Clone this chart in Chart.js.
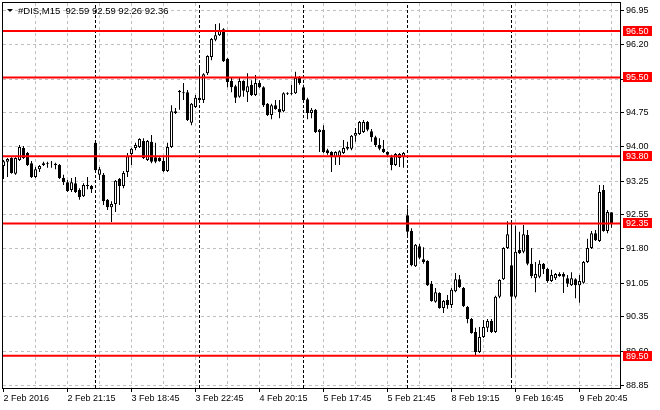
<!DOCTYPE html>
<html>
<head>
<meta charset="utf-8">
<title>#DIS,M15</title>
<script src="https://cdn.jsdelivr.net/npm/chart.js@4.4.1/dist/chart.umd.min.js"></script>
<style>
  html, body { margin: 0; padding: 0; background: #fff; }
  canvas { display: block; }
</style>
</head>
<body>
<canvas id="chart" width="660" height="410" style="width:660px;height:410px"></canvas>
<script>
// M15 bars, 2 Feb 2016 17:15 .. 9 Feb 2016 22:45 (trading session 16:30-23:00)
const opens = [
  93.59, 93.68, 93.76, 93.42, 93.72, 93.98, 93.87, 93.65, 93.35, 93.52,
  93.61, 93.63, 93.65, 93.64, 93.61, 93.33, 93.24, 93.07, 93.22, 93.07,
  92.94, 93.16, 93.16, 94.09, 93.40, 93.40, 92.86, 92.70, 92.77, 93.31,
  93.16, 93.46, 93.85, 93.98, 94.00, 94.13, 93.72, 94.11, 93.78, 93.76,
  93.70, 93.48, 94.00, 94.73, 95.18, 95.18, 95.18, 94.52, 94.86, 95.06,
  95.01, 95.59, 95.94, 96.31, 96.41, 96.54, 95.90, 95.42, 95.31, 95.08,
  95.42, 95.18, 95.34, 95.12, 95.38, 95.29, 94.93, 94.69, 94.90, 94.82,
  94.77, 95.14, 95.14, 95.16, 95.49, 95.29, 95.03, 94.73, 94.80, 94.32,
  94.37, 93.93, 93.89, 93.78, 93.80, 93.87, 93.96, 93.96, 94.24, 94.28,
  94.32, 94.54, 94.34, 94.21, 94.04, 93.96, 93.89, 93.78, 93.61, 93.76,
  93.78, 92.53, 92.19, 91.43, 91.86, 91.58, 91.54, 91.05, 90.66, 90.85,
  90.53, 90.70, 90.59, 90.89, 91.15, 90.96, 90.55, 90.29, 90.01, 89.58,
  89.90, 90.10, 90.25, 90.01, 90.77, 91.15, 91.82, 91.45, 90.77, 91.78,
  91.74, 92.10, 91.48, 91.17, 91.20, 91.48, 91.37, 91.11, 91.17, 91.22,
  91.26, 91.17, 91.02, 91.15, 91.02, 91.07, 91.52, 91.82, 92.14, 91.97,
  93.07, 92.19, 92.59
];
const highs = [
  93.72, 93.76, 93.78, 93.78, 94.04, 94.02, 93.89, 93.70, 93.57, 93.61,
  93.68, 93.68, 93.70, 93.66, 93.63, 93.40, 93.29, 93.33, 93.35, 93.11,
  93.22, 93.35, 93.18, 94.11, 93.57, 93.44, 92.88, 92.83, 93.29, 93.33,
  93.48, 93.87, 93.98, 94.09, 94.19, 94.19, 94.15, 94.26, 94.09, 93.78,
  93.78, 94.09, 94.90, 94.84, 95.23, 95.38, 95.23, 94.95, 95.12, 95.72,
  95.59, 95.98, 96.35, 96.65, 96.67, 96.56, 95.92, 95.51, 95.34, 95.51,
  95.44, 95.59, 95.44, 95.55, 95.44, 95.31, 94.95, 94.93, 95.01, 95.01,
  95.18, 95.18, 95.34, 95.62, 95.53, 95.34, 95.06, 94.84, 94.82, 94.39,
  94.47, 93.96, 93.91, 93.91, 93.93, 94.15, 94.11, 94.26, 94.41, 94.56,
  94.58, 94.56, 94.39, 94.24, 94.19, 94.15, 93.91, 93.83, 93.87, 93.87,
  93.89, 92.68, 92.25, 91.91, 91.91, 91.84, 91.56, 91.11, 90.96, 90.87,
  90.70, 90.81, 90.96, 91.28, 91.24, 90.98, 90.57, 90.31, 90.10, 90.12,
  90.27, 90.29, 90.29, 90.79, 91.15, 91.84, 92.40, 92.42, 92.30, 92.17,
  92.32, 92.21, 91.82, 91.52, 91.56, 91.50, 91.39, 91.35, 91.28, 91.30,
  91.30, 91.24, 91.30, 91.17, 91.24, 91.54, 92.02, 92.19, 92.21, 93.18,
  93.18, 92.64, 92.59
];
const lows = [
  93.31, 93.35, 93.42, 93.40, 93.70, 93.74, 93.59, 93.33, 93.33, 93.46,
  93.59, 93.55, 93.55, 93.52, 93.31, 93.18, 93.03, 93.03, 93.01, 92.86,
  92.92, 93.09, 93.01, 93.46, 93.29, 92.75, 92.64, 92.38, 92.60, 92.75,
  93.11, 93.35, 93.61, 93.93, 93.98, 93.74, 93.70, 93.65, 93.65, 93.68,
  93.46, 93.46, 93.98, 94.71, 94.80, 95.01, 94.56, 94.47, 94.84, 94.95,
  94.95, 95.55, 95.87, 96.28, 96.39, 95.83, 95.29, 95.18, 94.95, 95.06,
  95.08, 94.97, 95.10, 95.10, 95.27, 94.86, 94.67, 94.60, 94.80, 94.62,
  94.75, 95.12, 95.12, 95.14, 95.34, 94.99, 94.60, 94.62, 94.30, 93.89,
  93.87, 93.83, 93.46, 93.61, 93.61, 93.85, 93.93, 93.93, 94.11, 94.26,
  94.30, 94.34, 94.11, 94.00, 93.93, 93.87, 93.78, 93.50, 93.59, 93.57,
  93.55, 92.10, 91.43, 91.41, 91.58, 91.48, 91.00, 90.66, 90.64, 90.51,
  90.42, 90.51, 90.53, 90.87, 90.96, 90.55, 90.20, 89.97, 89.51, 89.56,
  89.88, 90.01, 89.99, 89.99, 90.74, 91.13, 91.80, 89.04, 90.74, 91.69,
  91.71, 91.45, 91.17, 90.87, 91.17, 91.26, 91.07, 91.09, 91.13, 91.20,
  90.85, 90.98, 91.00, 90.74, 90.64, 91.05, 91.50, 91.80, 91.97, 91.95,
  92.17, 92.14, 92.26
];
const closes = [
  93.69, 93.74, 93.44, 93.76, 94.00, 93.76, 93.61, 93.35, 93.52, 93.59,
  93.65, 93.65, 93.66, 93.61, 93.33, 93.24, 93.05, 93.24, 93.03, 92.92,
  93.18, 93.18, 93.09, 93.50, 93.52, 92.83, 92.70, 92.77, 93.27, 93.16,
  93.44, 93.80, 93.96, 94.04, 94.17, 93.76, 94.13, 93.68, 93.68, 93.70,
  93.48, 94.00, 94.77, 94.77, 95.21, 95.16, 94.58, 94.93, 95.06, 95.01,
  95.57, 95.96, 96.33, 96.41, 96.50, 95.85, 95.40, 95.29, 95.06, 95.42,
  95.21, 95.31, 95.12, 95.38, 95.29, 94.90, 94.69, 94.90, 94.82, 94.75,
  95.16, 95.16, 95.16, 95.49, 95.38, 95.01, 94.73, 94.80, 94.32, 94.37,
  93.89, 93.87, 93.78, 93.89, 93.91, 93.98, 94.00, 94.24, 94.30, 94.54,
  94.54, 94.37, 94.21, 94.04, 93.96, 93.89, 93.83, 93.61, 93.85, 93.85,
  93.87, 92.17, 91.45, 91.89, 91.61, 91.52, 91.02, 90.68, 90.87, 90.53,
  90.68, 90.59, 90.92, 91.15, 90.98, 90.57, 90.29, 89.99, 89.58, 89.90,
  90.12, 90.25, 90.01, 90.77, 91.13, 91.82, 92.12, 90.77, 91.74, 91.71,
  92.12, 91.48, 91.22, 91.26, 91.48, 91.37, 91.11, 91.24, 91.26, 91.26,
  91.20, 91.05, 91.17, 91.02, 91.11, 91.52, 91.82, 92.14, 91.99, 93.03,
  92.19, 92.60, 92.36
];

// x labels every 16 bars, starting at bar 0
const xTickLabels = ['2 Feb 2016', '2 Feb 21:15', '3 Feb 18:45', '3 Feb 22:45', '4 Feb 20:15',
  '5 Feb 17:45', '5 Feb 21:45', '8 Feb 19:15', '9 Feb 16:45', '9 Feb 20:45'];
const yTicks = [96.95, 96.20, 95.45, 94.75, 94.00, 93.25, 92.55, 91.80, 91.05, 90.35, 89.60, 88.85];
// horizontal lines drawn on the chart
const levels = [96.50, 95.50, 93.80, 92.35, 89.50];
// first bar of each new day (period separators)
const daySeparators = [23, 49, 75, 101, 127];

const symbolTitle = '#DIS,M15  92.59 92.59 92.26 92.36';

const X_MIN = -0.125, X_MAX = 154.125;
const Y_MIN = 88.803, Y_MAX = 97.104;
const FONT = 'Liberation Sans, Arial, sans-serif';

const wickData = highs.map((h, i) => ({ x: i, y: [lows[i], h] }));
const bodyData = opens.map((o, i) => ({ x: i, y: [o, closes[i]] }));
const bodyFill = opens.map((o, i) => closes[i] >= o ? '#ffffff' : '#000000');

const datasets = [];

levels.forEach(lv => {
    datasets.push({
        type: 'line',
        data: [{ x: X_MIN, y: lv }, { x: X_MAX, y: lv }],
        borderColor: '#ff0000',
        borderWidth: 2,
        pointRadius: 0,
        fill: false,
        order: 0
    });
});

daySeparators.forEach(idx => {
    datasets.push({
        type: 'line',
        data: [{ x: idx, y: Y_MIN }, { x: idx, y: Y_MAX }],
        borderColor: '#000000',
        borderWidth: 1,
        borderDash: [3, 2],
        pointRadius: 0,
        fill: false,
        order: 1
    });
});

datasets.push({
    type: 'bar',
    data: bodyData,
    backgroundColor: bodyFill,
    borderColor: '#000000',
    borderWidth: 1,
    borderSkipped: false,
    inflateAmount: 0,
    grouped: false,
    categoryPercentage: 1,
    barPercentage: 0.75,
    order: 2
});

datasets.push({
    type: 'bar',
    data: wickData,
    backgroundColor: '#000000',
    borderWidth: 0,
    inflateAmount: 0,
    grouped: false,
    categoryPercentage: 1,
    barPercentage: 0.25,
    order: 3
});

// frame, symbol title and red price labels on the axis
const overlay = {
    id: 'overlay',
    afterDraw(chart) {
        const { ctx, chartArea: a } = chart;
        const y = chart.scales.y;
        ctx.save();
        ctx.strokeStyle = '#000';
        ctx.lineWidth = 1;
        ctx.strokeRect(a.left - 0.5, a.top - 0.5, a.right - a.left + 1, a.bottom - a.top + 1);

        // small triangle and title
        ctx.fillStyle = '#000';
        ctx.beginPath();
        ctx.moveTo(7, 9);
        ctx.lineTo(13, 9);
        ctx.lineTo(10, 12);
        ctx.closePath();
        ctx.fill();
        ctx.font = '9.5px ' + FONT;
        ctx.textBaseline = 'alphabetic';
        ctx.textAlign = 'left';
        ctx.fillText(symbolTitle, 18, 14);

        // price labels of the horizontal lines
        ctx.font = '9px ' + FONT;
        ctx.textBaseline = 'middle';
        levels.forEach(lv => {
            const py = Math.round(y.getPixelForValue(lv));
            ctx.fillStyle = '#ff0000';
            ctx.fillRect(a.right + 3, py - 5, 29, 10);
            ctx.fillStyle = '#ffffff';
            ctx.fillText(lv.toFixed(2), a.right + 6, py + 0.5);
        });
        ctx.restore();
    }
};

new Chart(document.getElementById('chart'), {
    type: 'bar',
    data: { datasets },
    plugins: [overlay],
    options: {
        responsive: false,
        animation: false,
        layout: { padding: { left: 3, top: 3, right: 0, bottom: 0 } },
        plugins: { legend: { display: false }, tooltip: { enabled: false } },
        scales: {
            x: {
                type: 'linear',
                min: X_MIN,
                max: X_MAX,
                offset: false,
                afterBuildTicks: s => {
                    s.ticks = Array.from({ length: 20 }, (_, k) => ({ value: k * 8 }));
                },
                afterFit: s => {
                    s.height = 22;
                    s.paddingLeft = 0;
                    s.paddingRight = 0;
                },
                grid: {
                    offset: false,
                    color: c => (c.tick && c.tick.value === 0) ? 'rgba(0,0,0,0)' : '#c0c0c0',
                    tickColor: c => (c.tick && c.tick.value % 16 === 0) ? '#000' : 'rgba(0,0,0,0)',
                    tickLength: 4,
                    lineWidth: 1
                },
                border: { display: false, dash: [3, 3] },
                ticks: {
                    autoSkip: false,
                    maxRotation: 0,
                    align: 'start',
                    padding: 1,
                    color: '#000',
                    font: { family: FONT, size: 9 },
                    callback: v => (v % 16 === 0 ? (xTickLabels[v / 16] || '') : '')
                }
            },
            y: {
                type: 'linear',
                position: 'right',
                min: Y_MIN,
                max: Y_MAX,
                afterBuildTicks: s => {
                    s.ticks = yTicks.map(v => ({ value: v }));
                },
                afterFit: s => {
                    s.width = 40;
                    s.paddingTop = 0;
                    s.paddingBottom = 0;
                },
                grid: {
                    color: '#c0c0c0',
                    tickColor: '#000',
                    tickLength: 4,
                    lineWidth: 1
                },
                border: { display: false, dash: [3, 3] },
                ticks: {
                    autoSkip: false,
                    padding: 2,
                    color: '#000',
                    font: { family: FONT, size: 9 },
                    callback: v => v.toFixed(2)
                }
            }
        }
    }
});
</script>
</body>
</html>
